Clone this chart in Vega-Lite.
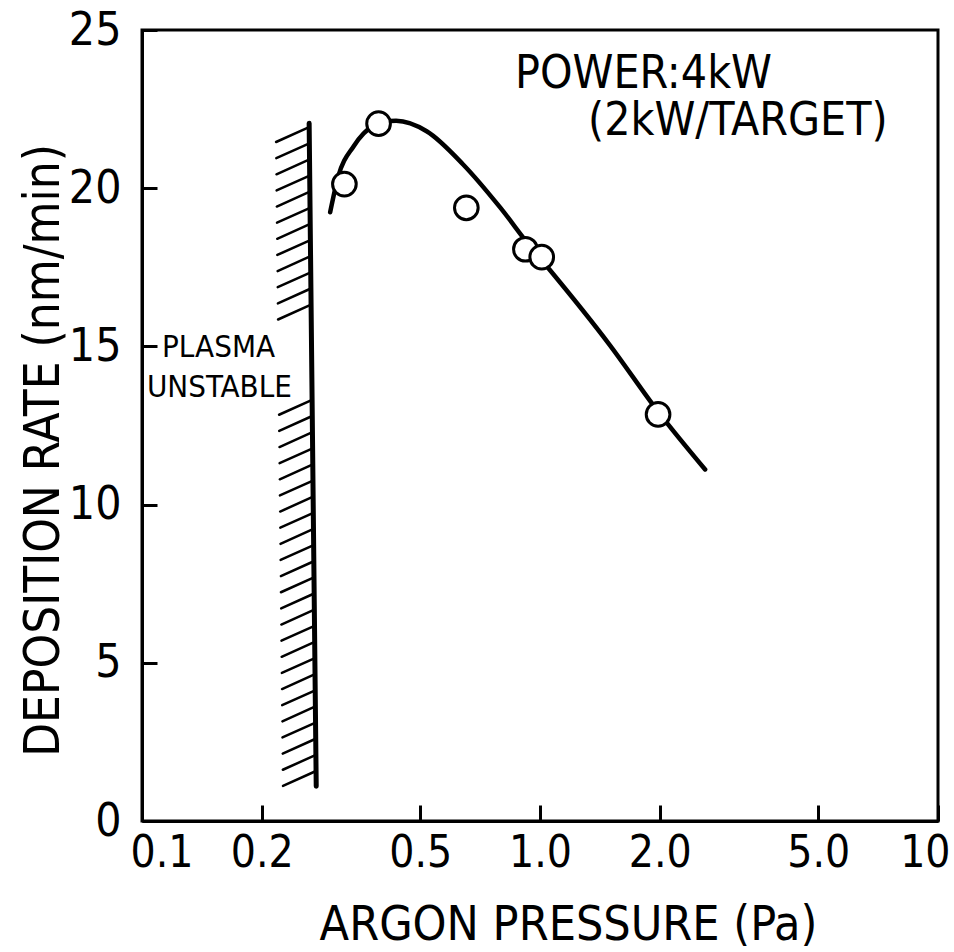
{
  "$schema": "https://vega.github.io/schema/vega-lite/v6.json",
  "width": 796,
  "height": 791,
  "autosize": {"type": "none"},
  "padding": {"left": 142, "top": 30, "right": 16, "bottom": 131},
  "background": "white",
  "config": {
    "view": {"stroke": "black", "strokeWidth": 3},
    "font": "DejaVu Sans Condensed, Liberation Sans Narrow, sans-serif",
    "axis": {
      "domainColor": "black", "domainWidth": 3, "tickColor": "black", "tickWidth": 3,
      "labelColor": "black", "titleColor": "black", "titleFontWeight": "normal",
      "grid": false, "labelOverlap": false
    }
  },
  "datasets": {
    "points": [
      {"p": 0.3225, "r": 20.13},
      {"p": 0.393, "r": 22.04},
      {"p": 0.653, "r": 19.38},
      {"p": 0.919, "r": 18.07},
      {"p": 1.01, "r": 17.82},
      {"p": 1.98, "r": 12.85}
    ],
    "curve": [
      {"p": 0.297, "r": 19.24},
      {"p": 0.311, "r": 20.36},
      {"p": 0.34, "r": 21.32},
      {"p": 0.38, "r": 21.95},
      {"p": 0.435, "r": 22.13},
      {"p": 0.519, "r": 21.8},
      {"p": 0.641, "r": 20.75},
      {"p": 0.793, "r": 19.4},
      {"p": 0.946, "r": 18.15},
      {"p": 1.05, "r": 17.47},
      {"p": 1.496, "r": 15.05},
      {"p": 1.98, "r": 12.94},
      {"p": 2.6, "r": 11.11}
    ],
    "wall": [
      {"p": 0.263, "r": 22.05, "p2": 0.274, "r2": 1.1}
    ],
    "hatch": [
      {"p": 0.263, "r": 21.93, "p2": 0.2172, "r2": 21.46},
      {"p": 0.2633, "r": 21.42, "p2": 0.2175, "r2": 20.95},
      {"p": 0.2636, "r": 20.91, "p2": 0.2177, "r2": 20.44},
      {"p": 0.2638, "r": 20.40, "p2": 0.2179, "r2": 19.93},
      {"p": 0.2641, "r": 19.89, "p2": 0.2181, "r2": 19.42},
      {"p": 0.2644, "r": 19.38, "p2": 0.2184, "r2": 18.91},
      {"p": 0.2647, "r": 18.87, "p2": 0.2186, "r2": 18.40},
      {"p": 0.2649, "r": 18.36, "p2": 0.2188, "r2": 17.89},
      {"p": 0.2652, "r": 17.85, "p2": 0.2191, "r2": 17.38},
      {"p": 0.2655, "r": 17.34, "p2": 0.2193, "r2": 16.87},
      {"p": 0.2657, "r": 16.83, "p2": 0.2195, "r2": 16.36},
      {"p": 0.2660, "r": 16.32, "p2": 0.2197, "r2": 15.85},
      {"p": 0.2676, "r": 13.31, "p2": 0.2210, "r2": 12.84},
      {"p": 0.2678, "r": 12.80, "p2": 0.2212, "r2": 12.33},
      {"p": 0.2681, "r": 12.29, "p2": 0.2215, "r2": 11.82},
      {"p": 0.2684, "r": 11.78, "p2": 0.2217, "r2": 11.31},
      {"p": 0.2687, "r": 11.27, "p2": 0.2219, "r2": 10.80},
      {"p": 0.2689, "r": 10.76, "p2": 0.2221, "r2": 10.29},
      {"p": 0.2692, "r": 10.25, "p2": 0.2224, "r2": 9.78},
      {"p": 0.2695, "r": 9.74, "p2": 0.2226, "r2": 9.27},
      {"p": 0.2697, "r": 9.23, "p2": 0.2228, "r2": 8.76},
      {"p": 0.2700, "r": 8.72, "p2": 0.2230, "r2": 8.25},
      {"p": 0.2703, "r": 8.21, "p2": 0.2233, "r2": 7.74},
      {"p": 0.2705, "r": 7.70, "p2": 0.2234, "r2": 7.23},
      {"p": 0.2708, "r": 7.19, "p2": 0.2237, "r2": 6.72},
      {"p": 0.2711, "r": 6.68, "p2": 0.2239, "r2": 6.21},
      {"p": 0.2713, "r": 6.17, "p2": 0.2241, "r2": 5.70},
      {"p": 0.2716, "r": 5.66, "p2": 0.2243, "r2": 5.19},
      {"p": 0.2719, "r": 5.15, "p2": 0.2246, "r2": 4.68},
      {"p": 0.2721, "r": 4.64, "p2": 0.2248, "r2": 4.17},
      {"p": 0.2724, "r": 4.13, "p2": 0.2250, "r2": 3.66},
      {"p": 0.2727, "r": 3.62, "p2": 0.2253, "r2": 3.15},
      {"p": 0.2729, "r": 3.11, "p2": 0.2254, "r2": 2.64},
      {"p": 0.2732, "r": 2.60, "p2": 0.2257, "r2": 2.13},
      {"p": 0.2735, "r": 2.09, "p2": 0.2259, "r2": 1.62},
      {"p": 0.2737, "r": 1.58, "p2": 0.2261, "r2": 1.11}
    ],
    "bigText": [
      {"p": 0.865, "r": 23.17, "t": "POWER:4kW"},
      {"p": 1.32, "r": 21.68, "t": "(2kW/TARGET)"}
    ],
    "smallText": [
      {"p": 0.1123, "r": 14.66, "t": "PLASMA"},
      {"p": 0.1029, "r": 13.40, "t": "UNSTABLE"}
    ]
  },
  "layer": [
    {
      "data": {"name": "wall"},
      "mark": {"type": "rule", "color": "black", "strokeWidth": 5, "strokeCap": "round"},
      "encoding": {
        "x": {"field": "p", "type": "quantitative",
          "scale": {"type": "log", "domain": [0.1, 10]},
          "axis": {
            "values": [0.1, 0.2, 0.5, 1, 2, 5, 10],
            "labelExpr": "datum.value >= 10 ? '10' : format(datum.value, '.1f')",
            "tickSize": -16, "labelPadding": 26, "labelFontSize": 44,
            "labelFlush": true, "labelFlushOffset": 12,
            "title": "ARGON  PRESSURE (Pa)", "titleFontSize": 48,
            "titleX": 426, "titleY": 118, "titleBaseline": "alphabetic", "titleAlign": "center"
          }
        },
        "y": {"field": "r", "type": "quantitative",
          "scale": {"domain": [0, 25], "nice": false, "zero": true},
          "axis": {
            "values": [0, 5, 10, 15, 20, 25],
            "tickSize": -15, "labelPadding": 36, "labelFontSize": 46,
            "labelFlush": false,
            "title": "DEPOSITION RATE (nm/min)", "titleFontSize": 49,
            "titleAngle": -90, "titleX": -84, "titleY": 420,
            "titleBaseline": "alphabetic", "titleAlign": "center"
          }
        },
        "x2": {"field": "p2"},
        "y2": {"field": "r2"}
      }
    },
    {
      "data": {"name": "hatch"},
      "mark": {"type": "rule", "color": "black", "strokeWidth": 2.5, "strokeCap": "round"},
      "encoding": {
        "x": {"field": "p", "type": "quantitative", "scale": {"type": "log", "domain": [0.1, 10]}},
        "y": {"field": "r", "type": "quantitative", "scale": {"domain": [0, 25], "nice": false}},
        "x2": {"field": "p2"},
        "y2": {"field": "r2"}
      }
    },
    {
      "data": {"name": "curve"},
      "mark": {"type": "line", "color": "black", "strokeWidth": 4.5, "interpolate": "monotone", "strokeCap": "round"},
      "encoding": {
        "x": {"field": "p", "type": "quantitative", "scale": {"type": "log", "domain": [0.1, 10]}},
        "y": {"field": "r", "type": "quantitative", "scale": {"domain": [0, 25], "nice": false}}
      }
    },
    {
      "data": {"name": "points"},
      "mark": {"type": "point", "shape": "circle", "filled": true, "fill": "white", "stroke": "black", "strokeWidth": 3, "size": 560, "opacity": 1},
      "encoding": {
        "x": {"field": "p", "type": "quantitative", "scale": {"type": "log", "domain": [0.1, 10]}},
        "y": {"field": "r", "type": "quantitative", "scale": {"domain": [0, 25], "nice": false}}
      }
    },
    {
      "data": {"name": "bigText"},
      "mark": {"type": "text", "align": "left", "baseline": "alphabetic", "fontSize": 46, "color": "black"},
      "encoding": {
        "x": {"field": "p", "type": "quantitative", "scale": {"type": "log", "domain": [0.1, 10]}},
        "y": {"field": "r", "type": "quantitative", "scale": {"domain": [0, 25], "nice": false}},
        "text": {"field": "t"}
      }
    },
    {
      "data": {"name": "smallText"},
      "mark": {"type": "text", "align": "left", "baseline": "alphabetic", "fontSize": 31, "color": "black"},
      "encoding": {
        "x": {"field": "p", "type": "quantitative", "scale": {"type": "log", "domain": [0.1, 10]}},
        "y": {"field": "r", "type": "quantitative", "scale": {"domain": [0, 25], "nice": false}},
        "text": {"field": "t"}
      }
    }
  ]
}
